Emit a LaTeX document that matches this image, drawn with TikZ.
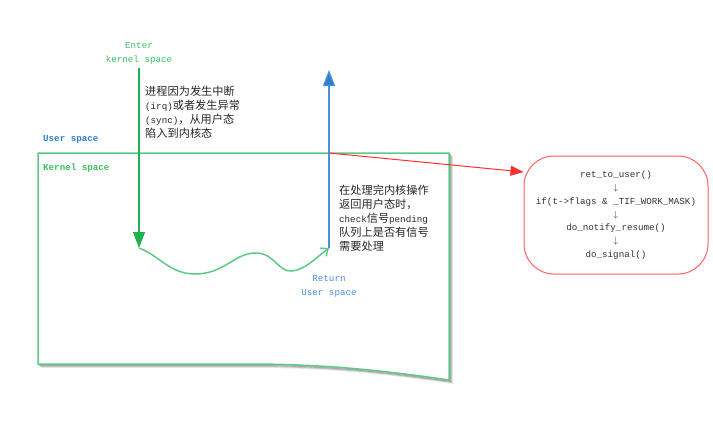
\documentclass[tikz,border=0pt]{standalone}
\usepackage{fontspec}
\setmonofont{Liberation Mono}
\newfontfamily\cjk{Noto Sans CJK SC}
\usetikzlibrary{arrows.meta}
\definecolor{kgreen}{HTML}{5CC984}
\definecolor{agreen}{HTML}{1FB050}
\definecolor{tgreen}{HTML}{3CC060}
\definecolor{ublue}{HTML}{2E7FD0}
\definecolor{lblue}{HTML}{4A8FD8}
\definecolor{rred}{HTML}{FF3030}
\definecolor{bred}{HTML}{FF6060}
\newcommand{\zh}[1]{{\cjk\fontsize{11.2}{14}\selectfont #1}}
\tikzset{
  mono/.style={font=\ttfamily\fontsize{9.2}{14}\selectfont, inner sep=0pt},
  note/.style={mono, text=black!85, align=left, anchor=north west},
  label/.style={mono, align=center},
  spacelabel/.style={font=\ttfamily\bfseries\fontsize{9.2}{14}\selectfont, inner sep=0pt, anchor=west},
  flowbox/.style={draw=bred, line width=1pt, rounded corners=30pt,
    minimum width=184pt, minimum height=118pt, mono, align=center, text=black!80,
    font=\ttfamily\fontsize{9.2}{13.3}\selectfont},
}
\begin{document}
\begin{tikzpicture}[x=1pt, y=-1pt]
\useasboundingbox (0,0) rectangle (713,432);

% kernel space region with drop shadow
\foreach \d/\o in {3/0.10, 2/0.18, 1/0.25}{
  \draw[black, opacity=\o, line width=1.5pt, shift={(\d,\d)}]
    (449,153) -- (449,380) .. controls (380,370) and (330,365) .. (260,364) -- (38,364);
}
\draw[kgreen, line width=1.5pt]
  (38,153) -- (449,153) -- (449,380) .. controls (380,370) and (330,365) .. (260,364) -- (38,364) -- cycle;

\node[spacelabel, text=ublue] (user) at (43,139) {User space};
\node[spacelabel, text=tgreen] (kernel) at (43,168) {Kernel space};

% entering the kernel
\node[label, text=tgreen] (enter) at (139,53) {Enter\\kernel space};
\coordinate (trap) at (139,248);
\draw[agreen, line width=1.2pt, -{Triangle[length=16pt,width=12pt]}]
  (139,68) -- (trap);

\node[note, anchor=north west] (why) at (145,86)
  {\zh{进程因为发生中断}\\(irq)\zh{或者发生异常}\\(sync)\zh{，从用户态}\\\zh{陷入到内核态}};

% work inside the kernel
\coordinate (back) at (329,248);
\draw[kgreen, line width=1.5pt, -{Straight Barb[length=6pt,width=10pt]}]
  (trap) .. controls (160,256) and (170,274) .. (195,274)
  .. controls (225,274) and (235,252) .. (257,253)
  .. controls (275,254) and (278,272) .. (292,271)
  .. controls (305,270) and (318,256) .. (back);

% returning to user space
\coordinate (cross) at (329,153);
\draw[lblue, line width=1.2pt] (back) -- (cross);
\draw[lblue, line width=1.2pt, -{Triangle[length=16pt,width=12pt,fill=ublue]}]
  (cross) -- (329,70);

\node[label, text=lblue] (ret) at (329,286) {Return\\User space};

\node[note] (check) at (339,185)
  {\zh{在处理完内核操作}\\\zh{返回用户态时，}\\check\zh{信号}pending\\\zh{队列上是否有信号}\\\zh{需要处理}};

% signal delivery path
\node[flowbox] (flow) at (616,215)
  {ret\_to\_user()\\$\downarrow$\\if(t->flags \& \_TIF\_WORK\_MASK)\\$\downarrow$\\do\_notify\_resume()\\$\downarrow$\\do\_signal()};

\draw[rred, line width=1pt, -{Triangle[length=13pt,width=10pt]}]
  (cross) -- (flow.west |- 0,172) ;
\end{tikzpicture}
\end{document}
